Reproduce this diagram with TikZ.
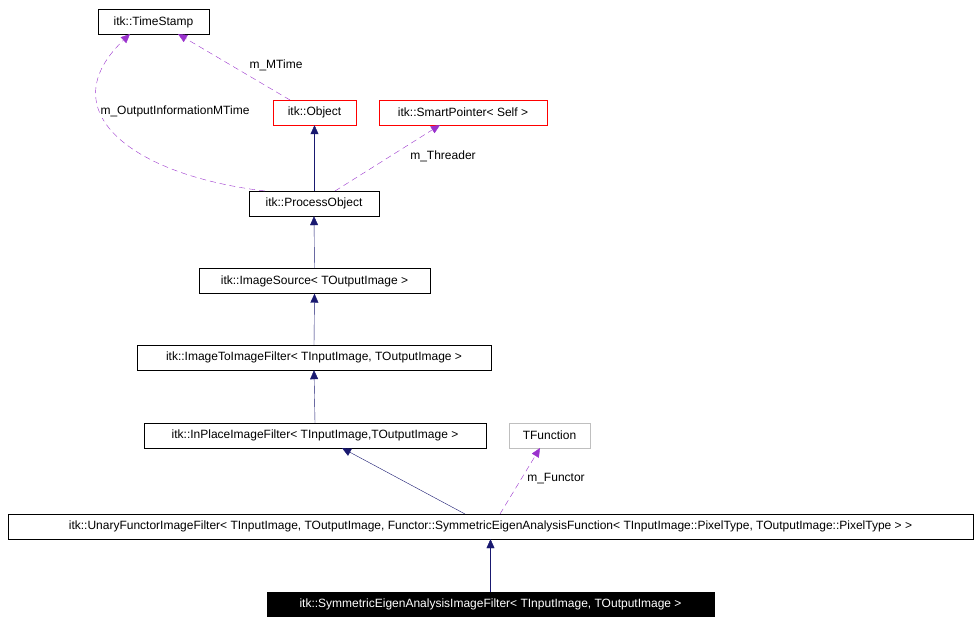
\documentclass[tikz,border=0pt]{standalone}
\usepackage{fontspec}
\setmainfont{Liberation Sans}
\usetikzlibrary{arrows.meta}
\begin{document}
\begin{tikzpicture}[x=1pt,y=-1pt,
  box/.style={draw=black,fill=white,inner sep=0pt,minimum height=25pt,font=\fontsize{12}{14}\selectfont},
  red/.style={box,draw=red},
  inh/.style={draw={rgb,255:red,25;green,25;blue,112},-{Triangle[length=9pt,width=8pt]}},
  use/.style={draw={rgb,255:red,154;green,50;blue,205},dashed,dash pattern=on 6pt off 4pt,-{Triangle[length=9pt,width=8pt]}},
  lab/.style={font=\fontsize{12}{14}\selectfont,fill=white,inner sep=1pt}]
\useasboundingbox (0,0) rectangle (980,623);
\node[box,minimum width=111pt] (ts) at (153.5,22) {itk::TimeStamp};
\node[red,minimum width=83pt] (obj) at (314.5,112.5) {itk::Object};
\node[red,minimum width=168pt] (sp) at (463,112.5) {itk::SmartPointer< Self >};
\node[box,minimum width=130pt] (po) at (314,203.5) {itk::ProcessObject};
\node[box,minimum width=231pt] (is) at (314.5,281) {itk::ImageSource< TOutputImage >};
\node[box,minimum width=354pt] (itif) at (314,357.5) {itk::ImageToImageFilter< TInputImage, TOutputImage >};
\node[box,minimum width=342pt] (ipf) at (315,435.5) {itk::InPlaceImageFilter< TInputImage,TOutputImage >};
\node[box,draw={rgb,255:red,191;green,191;blue,191},minimum width=81pt] (tf) at (549.5,435.5) {TFunction};
\node[box,minimum width=965pt] (uf) at (490.5,526.5) {itk::UnaryFunctorImageFilter< TInputImage, TOutputImage, Functor::SymmetricEigenAnalysisFunction< TInputImage::PixelType, TOutputImage::PixelType > >};
\node[box,fill=black,text=white,minimum width=447pt,minimum height=24pt] (se) at (490.5,604) {itk::SymmetricEigenAnalysisImageFilter< TInputImage, TOutputImage >};

\draw[inh] (obj.south) ++(0,66) -- (obj.south);
\draw[inh] (is.north) -- (po.south);
\draw[inh] (itif.north) -- (is.south);
\draw[inh] (ipf.north) -- (itif.south);
\draw[inh] (se.north) -- (uf.south);
\draw[inh] (465,514) -- (342,448);
\draw[use] (265,191) .. controls (130,175) and (50,110) .. (130,34);
\draw[use] (290,100) -- (178,34);
\draw[use] (335,191) -- (440,125);
\draw[use] (500,514) -- (540,448);
\node[lab] (l1) at (175,111) {m\_OutputInformationMTime};
\node[lab,fill=none] (l2) at (276,65) {m\_MTime};
\node[lab,fill=none] (l3) at (443,156) {m\_Threader};
\node[lab,fill=none] (l4) at (556,479) {m\_Functor};
\end{tikzpicture}
\end{document}
